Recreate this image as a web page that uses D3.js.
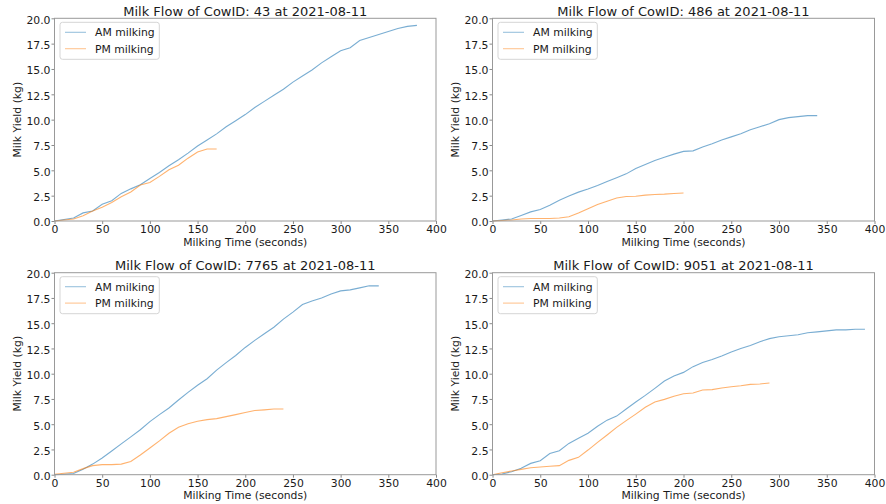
<!DOCTYPE html>
<html><head><meta charset="utf-8">
<script src="https://cdn.jsdelivr.net/npm/d3@7"></script>
<style>
body{margin:0;background:#fff}
svg{display:block}
text{font-family:"DejaVu Sans",sans-serif;fill:#1a1a1a}
</style>
</head><body>
<svg id="chart" width="886" height="504"></svg>
<script>
// ---- data ----
const cowIds = ["43", "486", "7765", "9051"];
const milkDate = "2021-08-11";
const seriesNames = ["AM milking", "PM milking"];
const seriesColors = ["#1f77b4", "#ff7f0e"];
const xTicks = [0, 50, 100, 150, 200, 250, 300, 350, 400];
const yTicks = [0, 2.5, 5, 7.5, 10, 12.5, 15, 17.5, 20];
const seconds = [0,10,20,30,40,50,60,70,80,90,100,110,120,130,140,150,160,170,180,190,
                 200,210,220,230,240,250,260,270,280,290,300,310,320,330,340,350,360,370,380,390];

const am43 = [0,0.15,0.3,0.8,0.98,1.65,2.0,2.72,3.17,3.57,4.2,4.78,5.45,6.05,6.7,7.4,8.0,8.6,9.3,9.9,
              10.5,11.2,11.8,12.4,13.0,13.7,14.3,14.9,15.6,16.2,16.8,17.1,17.8,18.1,18.4,18.7,19.0,19.2,19.3];
const pm43 = [0,0.1,0.2,0.52,0.98,1.36,1.82,2.4,2.86,3.55,3.8,4.4,5.05,5.5,6.2,6.8,7.1,7.1];

const am486 = [0,0.1,0.2,0.55,0.9,1.13,1.55,2.05,2.47,2.85,3.15,3.5,3.9,4.27,4.65,5.18,5.58,5.98,6.3,6.6,
               6.87,6.92,7.3,7.62,8.0,8.3,8.6,9.0,9.3,9.6,10.0,10.2,10.3,10.4,10.4];
const pm486 = [0,0.05,0.1,0.2,0.25,0.25,0.25,0.3,0.42,0.78,1.2,1.62,1.95,2.27,2.42,2.44,2.55,2.62,2.65,2.72,2.76];

const am7765 = [0,0.05,0.12,0.55,1.05,1.65,2.35,3.05,3.75,4.45,5.25,5.95,6.6,7.4,8.15,8.85,9.5,10.35,11.1,11.8,
                12.6,13.3,13.95,14.6,15.4,16.1,16.85,17.2,17.5,17.9,18.2,18.3,18.5,18.7,18.7];
const pm7765 = [0.05,0.15,0.25,0.6,0.9,1.0,1.0,1.05,1.3,1.95,2.65,3.35,4.1,4.7,5.05,5.3,5.45,5.55,5.75,5.95,
                6.15,6.35,6.42,6.5,6.5];

const am9051 = [0,0.07,0.3,0.63,1.12,1.39,2.1,2.38,3.1,3.6,4.1,4.8,5.4,5.8,6.5,7.2,7.85,8.55,9.27,9.77,
                10.13,10.7,11.1,11.4,11.75,12.15,12.5,12.8,13.17,13.47,13.66,13.76,13.86,14.06,14.14,14.24,14.34,14.34,14.4,14.4];
const pm9051 = [0,0.2,0.36,0.53,0.69,0.76,0.83,0.9,1.42,1.72,2.44,3.2,3.93,4.69,5.35,6.0,6.67,7.2,7.46,7.76,
                8.02,8.09,8.38,8.42,8.58,8.71,8.81,8.94,8.98,9.08];

const panelSeries = [[am43, pm43], [am486, pm486], [am7765, pm7765], [am9051, pm9051]];

// ---- layout ----
const panels = [
  {x0: 54.5, x1: 436, y0: 18.3, y1: 221},
  {x0: 492.5, x1: 874.5, y0: 18.3, y1: 221},
  {x0: 54.5, x1: 436, y0: 272.7, y1: 474.7},
  {x0: 492.5, x1: 874.5, y0: 272.7, y1: 474.7}
];
const FS = 10.8;
const svg = d3.select("#chart");

panels.forEach((p, i) => {
  const x = d3.scaleLinear().domain([0, 400]).range([p.x0, p.x1]);
  const y = d3.scaleLinear().domain([0, 20]).range([p.y1, p.y0]);
  const g = svg.append("g");

  // lines
  const line = d3.line().x((d, k) => x(seconds[k])).y(d => y(d));
  panelSeries[i].forEach((vals, s) => {
    g.append("path").datum(vals)
      .attr("d", line)
      .attr("fill", "none")
      .attr("stroke", seriesColors[s])
      .attr("stroke-opacity", 0.6)
      .attr("stroke-width", 1.1);
  });

  // axes
  const xa = g.append("g").attr("transform", `translate(0,${p.y1})`)
    .call(d3.axisBottom(x).tickValues(xTicks).tickFormat(d3.format("d")).tickSize(3).tickPadding(1.8));
  const ya = g.append("g").attr("transform", `translate(${p.x0},0)`)
    .call(d3.axisLeft(y).tickValues(yTicks).tickFormat(d3.format(".1f")).tickSize(3).tickPadding(1));
  [xa, ya].forEach(a => {
    a.select(".domain").remove();
    a.selectAll(".tick line").attr("stroke", "#8a8a8a");
    a.selectAll(".tick text").attr("font-size", FS).attr("font-family", "DejaVu Sans").attr("fill", "#1a1a1a");
  });
  ya.selectAll(".tick text").attr("dy", "0.45em");

  // spines
  g.append("rect")
    .attr("x", p.x0).attr("y", p.y0)
    .attr("width", p.x1 - p.x0).attr("height", p.y1 - p.y0)
    .attr("fill", "none").attr("stroke", "#999").attr("stroke-width", 1);

  // title
  g.append("text")
    .attr("x", (p.x0 + p.x1) / 2).attr("y", p.y0 - 2.7)
    .attr("text-anchor", "middle").attr("font-size", 13)
    .text(`Milk Flow of CowID: ${cowIds[i]} at ${milkDate}`);

  // axis labels
  g.append("text")
    .attr("x", (p.x0 + p.x1) / 2).attr("y", p.y1 + 24.5)
    .attr("text-anchor", "middle").attr("font-size", FS)
    .text("Milking Time (seconds)");
  g.append("text")
    .attr("transform", `translate(${p.x0 - 33.5},${(p.y0 + p.y1) / 2}) rotate(-90)`)
    .attr("text-anchor", "middle").attr("font-size", FS)
    .text("Milk Yield (kg)");

  // legend
  const lg = g.append("g").attr("transform", `translate(${p.x0 + 5.5},${p.y0 + 4})`);
  lg.append("rect").attr("width", 99.3).attr("height", 37).attr("rx", 2.5)
    .attr("fill", "#fff").attr("fill-opacity", 0.8)
    .attr("stroke", "#d5d5d5").attr("stroke-width", 1);
  seriesNames.forEach((nm, s) => {
    const ly = 10 + s * 16.4;
    lg.append("line").attr("x1", 5).attr("x2", 26).attr("y1", ly).attr("y2", ly)
      .attr("stroke", seriesColors[s]).attr("stroke-opacity", 0.45).attr("stroke-width", 1.1);
    lg.append("text").attr("x", 35).attr("y", ly + 4).attr("font-size", FS).text(nm);
  });
});
</script>
</body></html>
